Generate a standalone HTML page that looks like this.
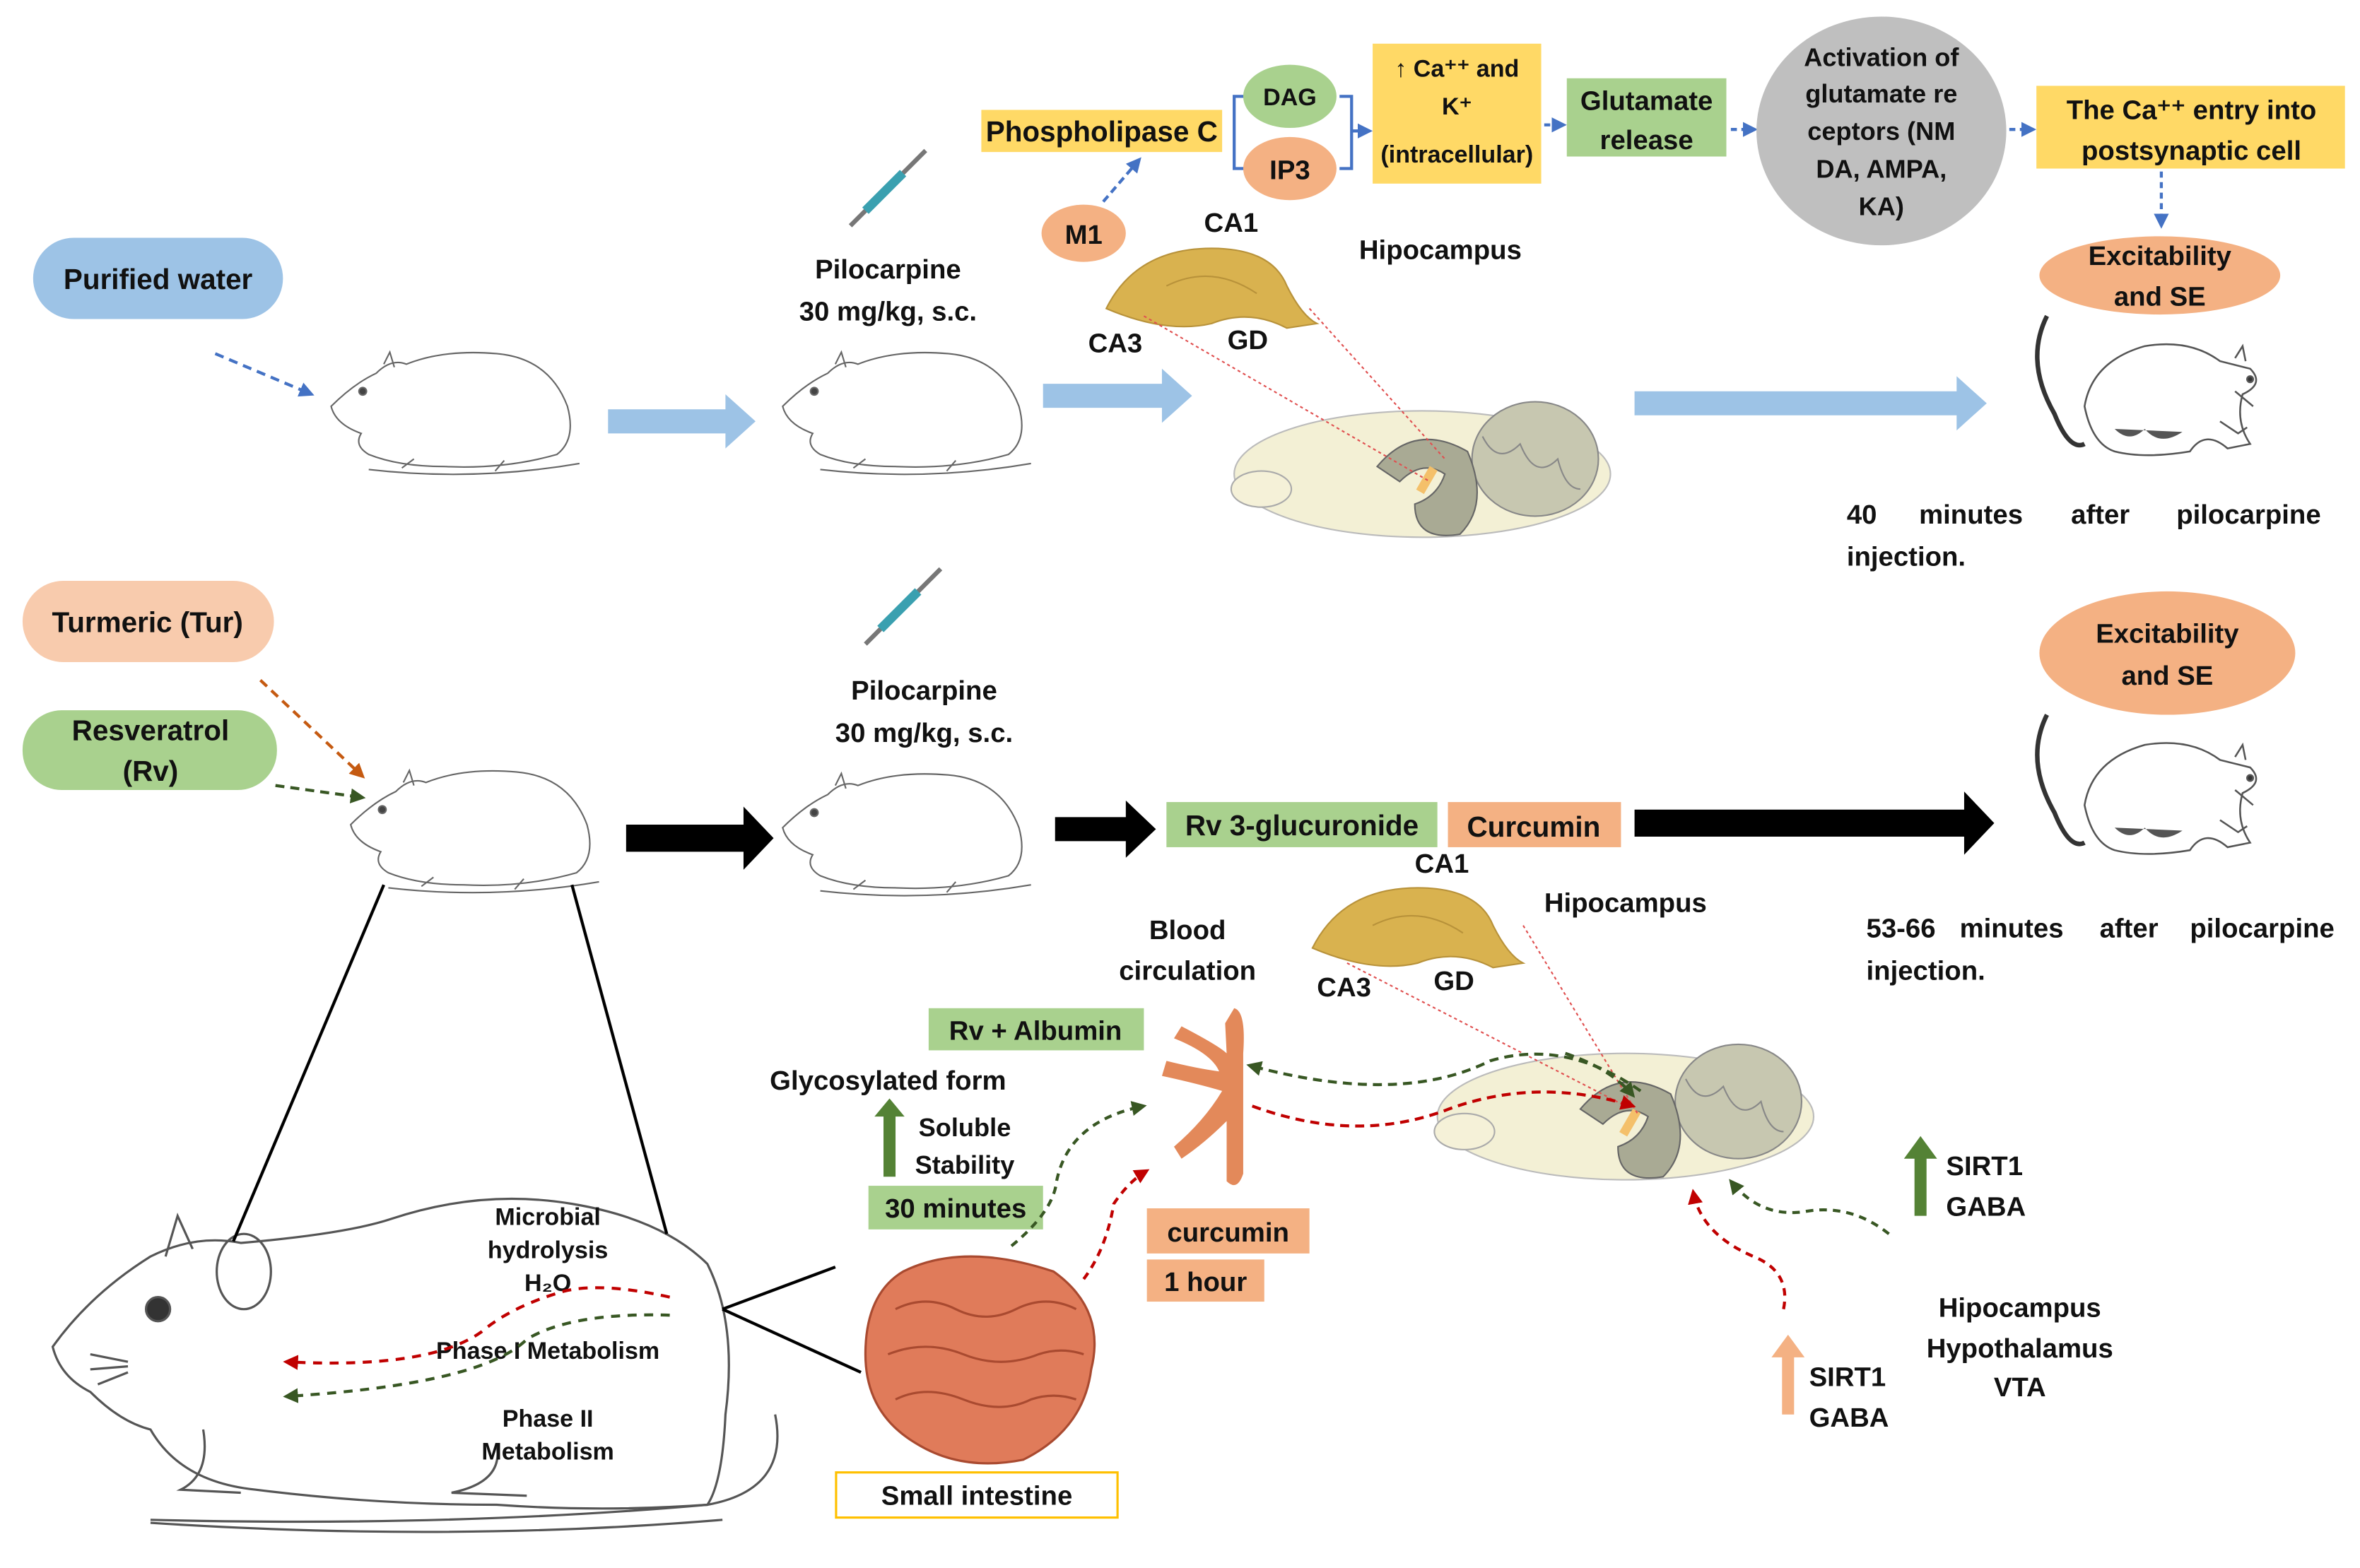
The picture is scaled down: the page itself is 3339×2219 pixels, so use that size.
<!DOCTYPE html>
<html><head><meta charset="utf-8"><style>
html,body{margin:0;padding:0;background:#fff}
svg{display:block}
text{font-family:"Liberation Sans Narrow","Liberation Sans",sans-serif;font-weight:bold;fill:#111}
</style></head><body>
<svg width="3339" height="2219" viewBox="0 0 1568 1042" xmlns="http://www.w3.org/2000/svg">
<defs>
<g id="rat" fill="none" stroke="#666" stroke-width="1">
<path d="M5,40 Q20,25 35,18 Q45,8 55,12 Q80,2 115,5 Q150,8 162,40 Q168,62 155,72 Q120,82 80,80 Q50,80 30,72 Q20,66 25,58 Q8,52 5,40 Z"/>
<path d="M40,12 L44,4 L47,14"/><circle cx="26" cy="30" r="2.5" fill="#444"/>
<path d="M30,82 Q100,90 170,78"/><path d="M60,75 l-8,6 M120,76 l-6,7"/>
</g>
<g id="srat" fill="none" stroke="#555" stroke-width="1.2">
<path d="M15,10 Q0,40 20,75 Q30,100 40,95" stroke="#333" stroke-width="3"/>
<path d="M40,70 Q45,40 80,30 Q110,25 130,40 L150,45 Q160,55 145,62 Q140,80 150,95 L135,98 Q120,85 110,100 Q80,105 60,100 Q45,95 40,70 Z"/>
<path d="M140,38 l5,-8 l2,10" /><circle cx="150" cy="52" r="2" fill="#333"/>
<path d="M60,85 q10,10 20,0 q10,12 25,2" fill="#555" stroke="none"/>
<path d="M130,80 l12,8 l6,-4 M140,60 l12,10" />
</g>
<g id="brain">
<ellipse cx="125" cy="55" rx="125" ry="42" fill="#f3f0d5" stroke="#bbb"/>
<ellipse cx="200" cy="45" rx="42" ry="38" fill="#c7c7b0" stroke="#888"/>
<path d="M165,30 q10,20 25,5 q10,25 25,10 q5,20 15,20" stroke="#888" fill="none"/>
<path d="M95,50 Q120,20 155,40 Q170,75 150,95 Q120,100 120,75 Q135,70 140,55 Q125,45 110,60 Z" fill="#a9aa94" stroke="#666"/>
<ellipse cx="18" cy="65" rx="20" ry="12" fill="#f5f1d8" stroke="#aaa"/>
<rect x="125" y="50" width="6" height="18" fill="#f4c06a" transform="rotate(30 128 59)"/>
</g>
<g id="hippo">
<path d="M0,45 Q20,5 70,5 Q110,5 120,30 Q130,50 140,55 L120,58 Q95,45 70,55 Q40,62 0,45 Z" fill="#d9b24f" stroke="#b8923a"/>
<path d="M40,30 Q70,15 100,35" stroke="#b8923a" fill="none"/>
</g>
<g id="syr"><line x1="0" y1="50" x2="50" y2="0" stroke="#777" stroke-width="3"/><line x1="10" y1="40" x2="35" y2="15" stroke="#3aa0b0" stroke-width="6"/></g>
<marker id="mb" markerWidth="5" markerHeight="5" refX="4" refY="2.5" orient="auto"><path d="M0,0 L5,2.5 L0,5 Z" fill="#4472c4"/></marker>
<marker id="mr" markerWidth="5" markerHeight="5" refX="4" refY="2.5" orient="auto"><path d="M0,0 L5,2.5 L0,5 Z" fill="#c00000"/></marker>
<marker id="mg" markerWidth="5" markerHeight="5" refX="4" refY="2.5" orient="auto"><path d="M0,0 L5,2.5 L0,5 Z" fill="#385723"/></marker>
<marker id="mo" markerWidth="5" markerHeight="5" refX="4" refY="2.5" orient="auto"><path d="M0,0 L5,2.5 L0,5 Z" fill="#c55a11"/></marker>
</defs>

<!-- TOP -->
<rect x="22" y="158" width="166" height="54" rx="27" fill="#9dc3e6"/>
<text x="105" y="192" text-anchor="middle" font-size="19">Purified water</text>
<line x1="143" y1="235" x2="207" y2="262" stroke="#4472c4" stroke-width="2" stroke-dasharray="6,4" marker-end="url(#mb)"/>
<use href="#rat" x="215" y="230"/>
<use href="#rat" x="515" y="230"/>
<polygon points="404,272 482,272 482,262 502,280 482,298 482,288 404,288" fill="#9dc3e6"/>
<polygon points="693,255 772,255 772,245 792,263 772,281 772,271 693,271" fill="#9dc3e6"/>
<polygon points="1086,260 1300,260 1300,250 1320,268 1300,286 1300,276 1086,276" fill="#9dc3e6"/>
<use href="#syr" x="565" y="100"/>
<text x="590" y="185" text-anchor="middle" font-size="18">Pilocarpine</text>
<text x="590" y="213" text-anchor="middle" font-size="18">30 mg/kg, s.c.</text>
<ellipse cx="720" cy="155" rx="28" ry="19" fill="#f4b183"/>
<text x="720" y="162" text-anchor="middle" font-size="18">M1</text>
<line x1="733" y1="134" x2="757" y2="106" stroke="#4472c4" stroke-width="2" stroke-dasharray="5,3" marker-end="url(#mb)"/>
<rect x="652" y="73" width="160" height="28" fill="#ffd966"/>
<text x="732" y="94" text-anchor="middle" font-size="19">Phospholipase C</text>
<path d="M828,64 H820 V112 H828" stroke="#4472c4" stroke-width="2" fill="none"/>
<ellipse cx="857" cy="64" rx="31" ry="21" fill="#a9d18e"/><text x="857" y="70" text-anchor="middle" font-size="16">DAG</text>
<ellipse cx="857" cy="112" rx="31" ry="21" fill="#f4b183"/><text x="857" y="119" text-anchor="middle" font-size="18">IP3</text>
<path d="M890,64 H898 V112 H890 M898,87 H910" stroke="#4472c4" stroke-width="2" fill="none" marker-end="url(#mb)"/>
<rect x="912" y="29" width="112" height="93" fill="#ffd966"/>
<text x="968" y="51" text-anchor="middle" font-size="16">↑ Ca⁺⁺ and</text>
<text x="968" y="76" text-anchor="middle" font-size="16">K⁺</text>
<text x="968" y="108" text-anchor="middle" font-size="16">(intracellular)</text>
<line x1="1026" y1="83" x2="1039" y2="83" stroke="#4472c4" stroke-width="2" stroke-dasharray="4,3" marker-end="url(#mb)"/>
<rect x="1041" y="52" width="106" height="52" fill="#a9d18e"/>
<text x="1094" y="73" text-anchor="middle" font-size="18">Glutamate</text>
<text x="1094" y="99" text-anchor="middle" font-size="18">release</text>
<line x1="1150" y1="86" x2="1166" y2="86" stroke="#4472c4" stroke-width="2" stroke-dasharray="4,3" marker-end="url(#mb)"/>
<ellipse cx="1250" cy="87" rx="83" ry="76" fill="#bfbfbf"/>
<text x="1250" y="44" text-anchor="middle" font-size="17">Activation of</text>
<text x="1250" y="68" text-anchor="middle" font-size="17">glutamate re</text>
<text x="1250" y="93" text-anchor="middle" font-size="17">ceptors (NM</text>
<text x="1250" y="118" text-anchor="middle" font-size="17">DA, AMPA,</text>
<text x="1250" y="143" text-anchor="middle" font-size="17">KA)</text>
<line x1="1335" y1="86" x2="1351" y2="86" stroke="#4472c4" stroke-width="2" stroke-dasharray="4,3" marker-end="url(#mb)"/>
<rect x="1353" y="57" width="205" height="55" fill="#ffd966"/>
<text x="1456" y="79" text-anchor="middle" font-size="18">The Ca⁺⁺ entry into</text>
<text x="1456" y="106" text-anchor="middle" font-size="18">postsynaptic cell</text>
<line x1="1436" y1="114" x2="1436" y2="150" stroke="#4472c4" stroke-width="2" stroke-dasharray="4,3" marker-end="url(#mb)"/>
<ellipse cx="1435" cy="183" rx="80" ry="26" fill="#f4b183"/>
<text x="1435" y="176" text-anchor="middle" font-size="18">Excitability</text>
<text x="1435" y="203" text-anchor="middle" font-size="18">and SE</text>
<use href="#srat" x="1345" y="200"/>
<text x="1227" y="348" font-size="18">40</text><text x="1275" y="348" font-size="18">minutes</text><text x="1376" y="348" font-size="18">after</text><text x="1446" y="348" font-size="18">pilocarpine</text>
<text x="1227" y="376" font-size="18">injection.</text>
<use href="#hippo" x="735" y="160"/>
<text x="818" y="154" text-anchor="middle" font-size="18">CA1</text>
<text x="741" y="234" text-anchor="middle" font-size="18">CA3</text>
<text x="829" y="232" text-anchor="middle" font-size="18">GD</text>
<text x="957" y="172" text-anchor="middle" font-size="18">Hipocampus</text>
<use href="#brain" x="820" y="260"/>
<line x1="760" y1="210" x2="950" y2="320" stroke="#e05050" stroke-width="1" stroke-dasharray="2,2"/>
<line x1="870" y1="205" x2="960" y2="305" stroke="#e05050" stroke-width="1" stroke-dasharray="2,2"/>

<!-- BOTTOM -->
<rect x="15" y="386" width="167" height="54" rx="27" fill="#f8cbad"/>
<text x="98" y="420" text-anchor="middle" font-size="19">Turmeric (Tur)</text>
<rect x="15" y="472" width="169" height="53" rx="26" fill="#a9d18e"/>
<text x="100" y="492" text-anchor="middle" font-size="19">Resveratrol</text>
<text x="100" y="519" text-anchor="middle" font-size="19">(Rv)</text>
<line x1="173" y1="452" x2="241" y2="516" stroke="#c55a11" stroke-width="2" stroke-dasharray="6,4" marker-end="url(#mo)"/>
<line x1="183" y1="522" x2="241" y2="530" stroke="#385723" stroke-width="2" stroke-dasharray="6,4" marker-end="url(#mg)"/>
<use href="#rat" x="228" y="508"/>
<use href="#rat" x="515" y="510"/>
<use href="#syr" x="575" y="378"/>
<text x="614" y="465" text-anchor="middle" font-size="18">Pilocarpine</text>
<text x="614" y="493" text-anchor="middle" font-size="18">30 mg/kg, s.c.</text>
<polygon points="416,548 494,548 494,536 514,557 494,578 494,566 416,566" fill="#000"/>
<polygon points="701,543 748,543 748,532 768,551 748,570 748,559 701,559" fill="#000"/>
<polygon points="1086,538 1305,538 1305,526 1325,547 1305,568 1305,556 1086,556" fill="#000"/>
<rect x="775" y="533" width="180" height="30" fill="#a9d18e"/>
<text x="865" y="555" text-anchor="middle" font-size="19">Rv 3-glucuronide</text>
<rect x="962" y="533" width="115" height="30" fill="#f4b183"/>
<text x="1019" y="556" text-anchor="middle" font-size="19">Curcumin</text>
<ellipse cx="1440" cy="434" rx="85" ry="41" fill="#f4b183"/>
<text x="1440" y="427" text-anchor="middle" font-size="18">Excitability</text>
<text x="1440" y="455" text-anchor="middle" font-size="18">and SE</text>
<use href="#srat" x="1345" y="465"/>
<text x="1240" y="623" font-size="18">53-66</text><text x="1302" y="623" font-size="18">minutes</text><text x="1395" y="623" font-size="18">after</text><text x="1455" y="623" font-size="18">pilocarpine</text>
<text x="1240" y="651" font-size="18">injection.</text>
<use href="#hippo" x="872" y="585"/>
<text x="958" y="580" text-anchor="middle" font-size="18">CA1</text>
<text x="893" y="662" text-anchor="middle" font-size="18">CA3</text>
<text x="966" y="658" text-anchor="middle" font-size="18">GD</text>
<text x="1080" y="606" text-anchor="middle" font-size="18">Hipocampus</text>
<use href="#brain" x="955" y="687"/>
<line x1="1012" y1="615" x2="1088" y2="740" stroke="#e05050" stroke-width="1" stroke-dasharray="2,2"/>
<line x1="895" y1="640" x2="1080" y2="735" stroke="#e05050" stroke-width="1" stroke-dasharray="2,2"/>
<text x="789" y="624" text-anchor="middle" font-size="18">Blood</text>
<text x="789" y="651" text-anchor="middle" font-size="18">circulation</text>
<rect x="617" y="670" width="143" height="28" fill="#a9d18e"/>
<text x="688" y="691" text-anchor="middle" font-size="18">Rv + Albumin</text>
<text x="590" y="724" text-anchor="middle" font-size="18">Glycosylated form</text>
<polygon points="591,730 601,742 595,742 595,782 587,782 587,742 581,742" fill="#548235"/>
<text x="641" y="755" text-anchor="middle" font-size="17">Soluble</text>
<text x="641" y="780" text-anchor="middle" font-size="17">Stability</text>
<rect x="577" y="788" width="116" height="29" fill="#a9d18e"/>
<text x="635" y="809" text-anchor="middle" font-size="18">30 minutes</text>
<path d="M820,670 Q828,672 826,700 L826,780 Q822,792 815,785 L815,745 Q800,760 785,770 L780,762 Q800,745 812,725 Q795,720 772,715 L775,705 Q795,710 810,712 Q805,700 780,690 L785,682 Q810,695 815,700 L814,680 Z" fill="#e3895a"/>
<rect x="762" y="803" width="108" height="30" fill="#f4b183"/>
<text x="816" y="825" text-anchor="middle" font-size="18">curcumin</text>
<rect x="762" y="837" width="78" height="28" fill="#f4b183"/>
<text x="801" y="858" text-anchor="middle" font-size="18">1 hour</text>
<g fill="#e07b5a" stroke="#a94a30" stroke-width="1.5">
<path d="M600,845 Q640,825 700,845 Q735,870 725,910 Q720,950 680,970 Q640,978 610,960 Q575,940 575,900 Q575,860 600,845 Z"/>
<path d="M595,870 q20,-10 40,0 q20,10 40,0 q20,-10 40,0 M590,900 q25,-10 50,0 q25,10 50,0 q15,-5 30,0 M595,930 q20,-10 45,0 q25,10 45,0 q15,-5 30,0" fill="none"/>
</g>
<rect x="555.5" y="978.5" width="187" height="30" fill="#fff" stroke="#ffc000" stroke-width="1.5"/>
<text x="649" y="1000" text-anchor="middle" font-size="18">Small intestine</text>
<!-- big rat -->
<g fill="none" stroke="#555" stroke-width="1.5">
<path d="M35,895 Q60,860 100,835 Q130,820 160,826 Q230,820 260,810 Q320,790 380,800 Q440,810 470,840 Q490,880 482,940 Q480,985 470,1000 Q400,1005 330,1000 Q250,1000 170,990 Q120,985 100,950 Q80,945 60,925 Q40,915 35,895 Z"/>
<path d="M110,835 L118,808 L128,830"/><ellipse cx="162" cy="845" rx="18" ry="25"/>
<circle cx="105" cy="870" r="8" fill="#333"/>
<path d="M100,1010 Q300,1015 470,1000 Q525,990 515,940"/>
<path d="M100,1012 Q300,1025 480,1010"/>
<path d="M135,950 Q140,980 120,990 L160,992 M330,960 Q335,985 300,992 L350,994" />
<path d="M60,900 l25,5 M60,910 l25,-2 M65,920 l20,-8"/>
</g>
<line x1="255" y1="588" x2="155" y2="825" stroke="#000" stroke-width="2"/>
<line x1="380" y1="588" x2="443" y2="820" stroke="#000" stroke-width="2"/>
<line x1="480" y1="870" x2="555" y2="842" stroke="#000" stroke-width="2"/>
<line x1="480" y1="870" x2="572" y2="912" stroke="#000" stroke-width="2"/>
<text x="364" y="814" text-anchor="middle" font-size="16">Microbial</text>
<text x="364" y="836" text-anchor="middle" font-size="16">hydrolysis</text>
<text x="364" y="858" text-anchor="middle" font-size="16">H₂O</text>
<text x="364" y="903" text-anchor="middle" font-size="16">Phase I Metabolism</text>
<text x="364" y="948" text-anchor="middle" font-size="16">Phase II</text>
<text x="364" y="970" text-anchor="middle" font-size="16">Metabolism</text>
<path d="M445,862 Q400,852 375,858 Q340,868 320,885 Q285,910 190,905" stroke="#c00000" stroke-width="2" fill="none" stroke-dasharray="6,5" marker-end="url(#mr)"/>
<path d="M445,874 Q380,872 350,890 Q320,920 190,928" stroke="#385723" stroke-width="2" fill="none" stroke-dasharray="6,5" marker-end="url(#mg)"/>
<path d="M672,828 Q700,805 702,785 Q710,745 760,735" stroke="#385723" stroke-width="2" fill="none" stroke-dasharray="5,4" marker-end="url(#mg)"/>
<path d="M720,850 Q735,830 740,800 Q750,785 762,778" stroke="#c00000" stroke-width="2" fill="none" stroke-dasharray="5,4" marker-end="url(#mr)"/>
<path d="M1090,725 Q1040,690 990,705 Q930,735 830,708" stroke="#385723" stroke-width="2" fill="none" stroke-dasharray="6,4" marker-end="url(#mg)"/>
<path d="M1040,700 Q1070,710 1085,728" stroke="#385723" stroke-width="2" fill="none" stroke-dasharray="6,4" marker-end="url(#mg)"/>
<path d="M832,735 Q900,760 960,738 Q1020,715 1085,735" stroke="#c00000" stroke-width="2" fill="none" stroke-dasharray="6,4" marker-end="url(#mr)"/>
<path d="M1255,820 Q1230,800 1200,805 Q1170,810 1150,785" stroke="#385723" stroke-width="2" fill="none" stroke-dasharray="5,4" marker-end="url(#mg)"/>
<path d="M1185,870 Q1190,845 1165,835 Q1130,820 1125,792" stroke="#c00000" stroke-width="2" fill="none" stroke-dasharray="5,4" marker-end="url(#mr)"/>
<polygon points="1276,755 1287,770 1280,770 1280,808 1272,808 1272,770 1265,770" fill="#548235"/>
<text x="1293" y="781" font-size="18">SIRT1</text><text x="1293" y="808" font-size="18">GABA</text>
<text x="1342" y="875" text-anchor="middle" font-size="18">Hipocampus</text>
<text x="1342" y="902" text-anchor="middle" font-size="18">Hypothalamus</text>
<text x="1342" y="928" text-anchor="middle" font-size="18">VTA</text>
<polygon points="1188,887 1199,902 1192,902 1192,940 1184,940 1184,902 1177,902" fill="#f4b183"/>
<text x="1202" y="921" font-size="18">SIRT1</text><text x="1202" y="948" font-size="18">GABA</text>
</svg>
</body></html>
